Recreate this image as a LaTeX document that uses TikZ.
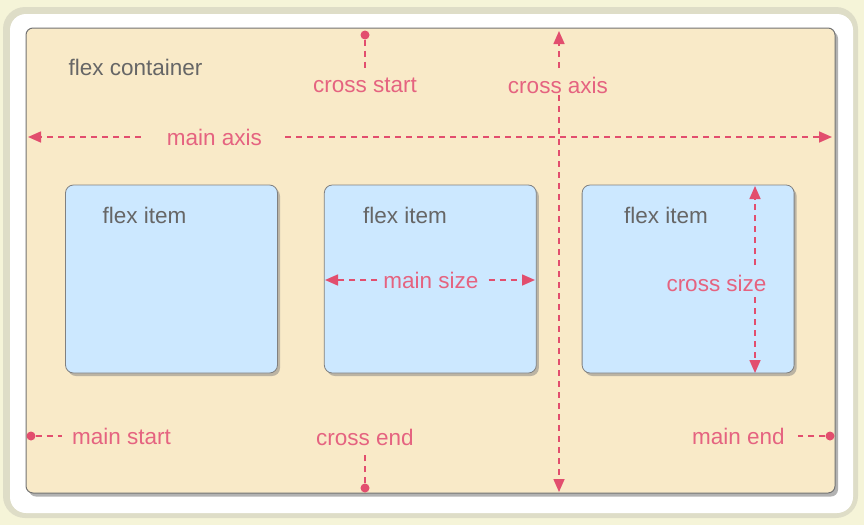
\documentclass[tikz,border=0pt]{standalone}
\usepackage{fontspec}
\setmainfont{Liberation Sans}
\usetikzlibrary{
    positioning,   % Relative positioning
    arrows.meta,   % Modern arrow tips
    shadows        % Drop shadows
}
\definecolor{pagebg}{RGB}{245,244,216}
\definecolor{framegrey}{RGB}{222,221,199}
\definecolor{boxcream}{RGB}{249,234,200}
\definecolor{itemblue}{RGB}{204,232,255}
\definecolor{flexpink}{RGB}{226,78,110}
\definecolor{labelgrey}{RGB}{102,102,102}

\begin{document}
\begin{tikzpicture}[x=1pt,y=-1pt,
    txt/.style={font=\fontsize{22.5}{26}\selectfont, inner sep=0pt},
    greytxt/.style={txt, text=labelgrey},
    pinktxt/.style={txt, text=flexpink!88!white},
    pinkdash/.style={draw=flexpink, line width=1.6pt, dash pattern=on 6pt off 5pt},
    tip/.style={pinkdash, -{Triangle[length=13pt,width=11pt]}},
    dot/.style={circle, fill=flexpink, inner sep=0pt, minimum size=9pt},
    container/.style={draw=black!55, line width=1pt, fill=boxcream, rounded corners=7pt,
        minimum width=809pt, minimum height=465pt,
        drop shadow={shadow xshift=3pt, shadow yshift=-3.5pt, opacity=0.6}},
    item/.style={draw=black!50, line width=0.8pt, fill=itemblue, rounded corners=8pt,
        minimum width=212pt, minimum height=188pt,
        drop shadow={shadow xshift=2.5pt, shadow yshift=-3pt, opacity=0.5}}
]
    % page and frame
    \useasboundingbox (0,0) rectangle (864,525);
    \fill[pagebg] (0,0) rectangle (864,525);
    \fill[framegrey, rounded corners=22pt] (3,7) rectangle (858,518);
    \fill[white, rounded corners=16pt] (10,14) rectangle (853,513);

    % container and items
    \node[container] (flexbox) at (430.5,260.5) {};
    \node[item] (item1) at (171.5,279) {};
    \node[item, right=46pt of item1] (item2) {};
    \node[item, right=45pt of item2] (item3) {};

    % grey labels
    \node[greytxt] (boxname) at (135.5,67) {flex container};
    \foreach \i/\x in {1/144.5, 2/405, 3/666}
        \node[greytxt] (itemname\i) at (\x,215) {flex item};

    % pink labels
    \node[pinktxt] (crossstart) at (365,85) {cross start};
    \node[pinktxt] (crossaxis) at (558,85) {cross axis};
    \node[pinktxt] (mainaxis) at (214.5,137) {main axis};
    \node[pinktxt] (mainstart) at (121.5,436) {main start};
    \node[pinktxt] (crossend) at (365,437) {cross end};
    \node[pinktxt] (mainend) at (738.5,436) {main end};
    \node[pinktxt] (mainsize) at (431,280) {main size};
    \node[pinktxt] (crosssize) at (716.5,283) {cross size};

    % end points
    \coordinate (ma-l) at (28,137);
    \coordinate (ma-r) at (832,137);
    \coordinate (ca-t) at (559,31);
    \coordinate (ca-m) at (559,85);
    \coordinate (ca-b) at (559,492);
    \coordinate (msz-l) at (325,280);
    \coordinate (msz-r) at (535,280);
    \coordinate (csz-t) at (755,186);
    \coordinate (csz-m) at (755,283);
    \coordinate (csz-b) at (755,373);
    \node[dot] (csdot) at (365,35) {};
    \node[dot] (cedot) at (365,488) {};
    \node[dot] (msdot) at (31,436) {};
    \node[dot] (medot) at (830,436) {};

    % axes
    \draw[tip] ([xshift=-26pt]mainaxis.west) -- (ma-l);
    \draw[tip] ([xshift=23pt]mainaxis.east) -- (ma-r);
    \draw[tip] ([yshift=17pt]ca-m) -- (ca-t);
    \draw[tip] ([yshift=-10pt]ca-m) -- (ca-b);

    % start and end marks
    \draw[pinkdash] (csdot) -- ([yshift=9pt]crossstart.north);
    \draw[pinkdash] (cedot) -- ([yshift=-8pt]crossend.south);
    \draw[pinkdash] (msdot) -- ([xshift=-10pt]mainstart.west);
    \draw[pinkdash] (medot) -- ([xshift=13pt]mainend.east);

    % sizes
    \draw[tip] ([xshift=-6pt]mainsize.west) -- (msz-l);
    \draw[tip] ([xshift=10pt]mainsize.east) -- (msz-r);
    \draw[tip] ([yshift=18pt]csz-m) -- (csz-t);
    \draw[tip] ([yshift=-14pt]csz-m) -- (csz-b);
\end{tikzpicture}
\end{document}
